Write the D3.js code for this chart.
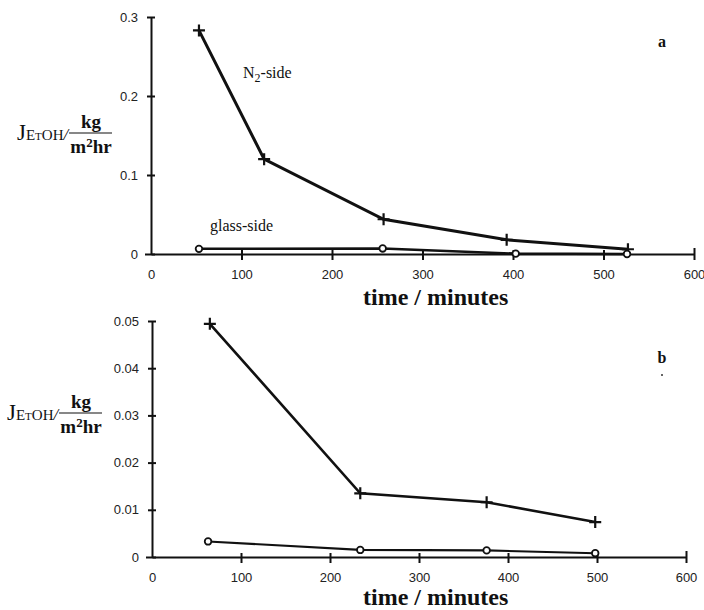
<!DOCTYPE html>
<html>
<head>
<meta charset="utf-8">
<script src="https://cdn.jsdelivr.net/npm/d3@7"></script>
<style>
  body { margin: 0; background: #fff; }
  svg { display: block; }
  .tick text { font-family: "Liberation Sans", sans-serif; font-size: 13px; fill: #222; }
  .domain, .tick line { stroke: #111; stroke-width: 2px; }
  .serif { font-family: "Liberation Serif", "DejaVu Serif", serif; fill: #111; }
</style>
</head>
<body>
<div id="chart"></div>
<script>
// panel a
const timeA_N2 = [53, 125, 257, 393, 527];
const fluxA_N2 = [0.283, 0.120, 0.044, 0.018, 0.006];
const timeA_glass = [53, 256, 403, 526];
const fluxA_glass = [0.0065, 0.007, 0.0005, 0.0];
const yTicksA = [0, 0.1, 0.2, 0.3];

// panel b
const timeB_N2 = [65, 234, 376, 498];
const fluxB_N2 = [0.0494, 0.0135, 0.0116, 0.0074];
const timeB_glass = [63, 234, 376, 498];
const fluxB_glass = [0.0033, 0.0015, 0.0014, 0.0008];
const yTicksB = [0, 0.01, 0.02, 0.03, 0.04, 0.05];

const xTicks = [0, 100, 200, 300, 400, 500, 600];

const W = 704, H = 610;
const svg = d3.select("#chart").append("svg").attr("width", W).attr("height", H);

function zip(xs, ys) { return xs.map((t, i) => ({ t: t, v: ys[i] })); }

function panel(opt) {
  const x = d3.scaleLinear().domain([0, 600]).range(opt.xr);
  const y = d3.scaleLinear().domain(opt.yd).range(opt.yr);
  const g = svg.append("g");

  const fmt = d => d === 0 ? "0" : d3.format(opt.fmt)(d);

  const gx = g.append("g").attr("transform", "translate(0," + opt.yr[0] + ")")
    .call(d3.axisBottom(x).tickValues(xTicks).tickSize(6).tickSizeOuter(0).tickPadding(10));
  gx.selectAll(".tick line").attr("y1", -4);
  gx.selectAll(".tick").filter(d => d === 0).select("line").remove();
  gx.selectAll(".tick").filter(d => d === 600).select("line").attr("y1", -6);

  const gy = g.append("g").attr("transform", "translate(" + opt.xr[0] + ",0)")
    .call(d3.axisLeft(y).tickValues(opt.yticks).tickFormat(fmt).tickSize(4).tickSizeOuter(0).tickPadding(9));
  gy.selectAll(".tick line").attr("x1", 4).attr("x2", -4);
  gy.selectAll(".tick").filter(d => d === 0).select("line").attr("x2", -6);

  const line = d3.line().x(d => x(d.t)).y(d => y(d.v));

  const n2 = zip(opt.n2t, opt.n2v);
  const gl = zip(opt.glt, opt.glv);

  g.append("path").datum(gl).attr("d", line)
    .attr("fill", "none").attr("stroke", "#111").attr("stroke-width", opt.lw - 0.5);
  g.append("path").datum(n2).attr("d", line)
    .attr("fill", "none").attr("stroke", "#111").attr("stroke-width", opt.lw);

  // plus markers
  const s = 6;
  g.selectAll(".plus").data(n2).enter().append("path")
    .attr("d", d => "M" + (x(d.t) - s) + "," + y(d.v) + "h" + (2 * s) +
                   "M" + x(d.t) + "," + (y(d.v) - s) + "v" + (2 * s))
    .attr("stroke", "#111").attr("stroke-width", 2.2).attr("fill", "none");

  // circle markers
  g.selectAll(".circ").data(gl).enter().append("circle")
    .attr("cx", d => x(d.t)).attr("cy", d => y(d.v)).attr("r", 3.3)
    .attr("fill", "#fff").attr("stroke", "#111").attr("stroke-width", 1.8);

  // y label: J_EtOH / kg over m2hr
  const lx = opt.labelX, ly = opt.labelY;
  const t = g.append("text").attr("class", "serif").attr("x", lx).attr("y", ly);
  t.append("tspan").attr("font-size", 23).text("J");
  t.append("tspan").attr("font-size", 15).attr("font-variant", "small-caps").text("EtOH");
  t.append("tspan").attr("font-size", 17).attr("font-style", "italic").text("/");
  const fx = lx + 74;
  g.append("text").attr("class", "serif").attr("x", fx).attr("y", ly - 12)
    .attr("text-anchor", "middle").attr("font-size", 19).attr("font-weight", "bold").text("kg");
  g.append("line").attr("x1", fx - 22).attr("x2", fx + 21)
    .attr("y1", ly - 7).attr("y2", ly - 7).attr("stroke", "#111").attr("stroke-width", 1.2);
  const fr = g.append("text").attr("class", "serif").attr("x", fx).attr("y", ly + 13)
    .attr("text-anchor", "middle").attr("font-size", 19).attr("font-weight", "bold");
  fr.append("tspan").text("m");
  fr.append("tspan").attr("font-size", 13).attr("dy", -6).text("2");
  fr.append("tspan").attr("dy", 6).text("hr");

  // x label
  g.append("text").attr("class", "serif").attr("x", opt.xlabX).attr("y", opt.xlabY)
    .attr("font-size", 24).attr("font-weight", "bold").text("time / minutes");

  // panel letter
  g.append("text").attr("class", "serif").attr("x", 662).attr("y", opt.letterY)
    .attr("text-anchor", "middle").attr("font-size", 16).attr("font-weight", "bold").text(opt.letter);

  return { g: g, x: x, y: y };
}

const pa = panel({
  xr: [151, 694], yr: [254, 17], yd: [0, 0.3], yticks: yTicksA, fmt: ".1f",
  n2t: timeA_N2, n2v: fluxA_N2, glt: timeA_glass, glv: fluxA_glass, lw: 3,
  labelX: 17, labelY: 140, xlabX: 363, xlabY: 305, letter: "a", letterY: 47
});
pa.g.append("text").attr("class", "serif").attr("x", 243).attr("y", 78).attr("font-size", 16)
  .call(t => {
    t.append("tspan").text("N");
    t.append("tspan").attr("font-size", 12).attr("dy", 4).text("2");
    t.append("tspan").attr("dy", -4).text("-side");
  });
pa.g.append("text").attr("class", "serif").attr("x", 210).attr("y", 231).attr("font-size", 16)
  .text("glass-side");

const pb = panel({
  xr: [152, 686], yr: [557, 321], yd: [0, 0.05], yticks: yTicksB, fmt: ".2f",
  n2t: timeB_N2, n2v: fluxB_N2, glt: timeB_glass, glv: fluxB_glass, lw: 2.6,
  labelX: 7, labelY: 420, xlabX: 363, xlabY: 605, letter: "b", letterY: 363
});
pb.g.append("circle").attr("cx", 662).attr("cy", 375).attr("r", 1).attr("fill", "#333");
</script>
</body>
</html>
